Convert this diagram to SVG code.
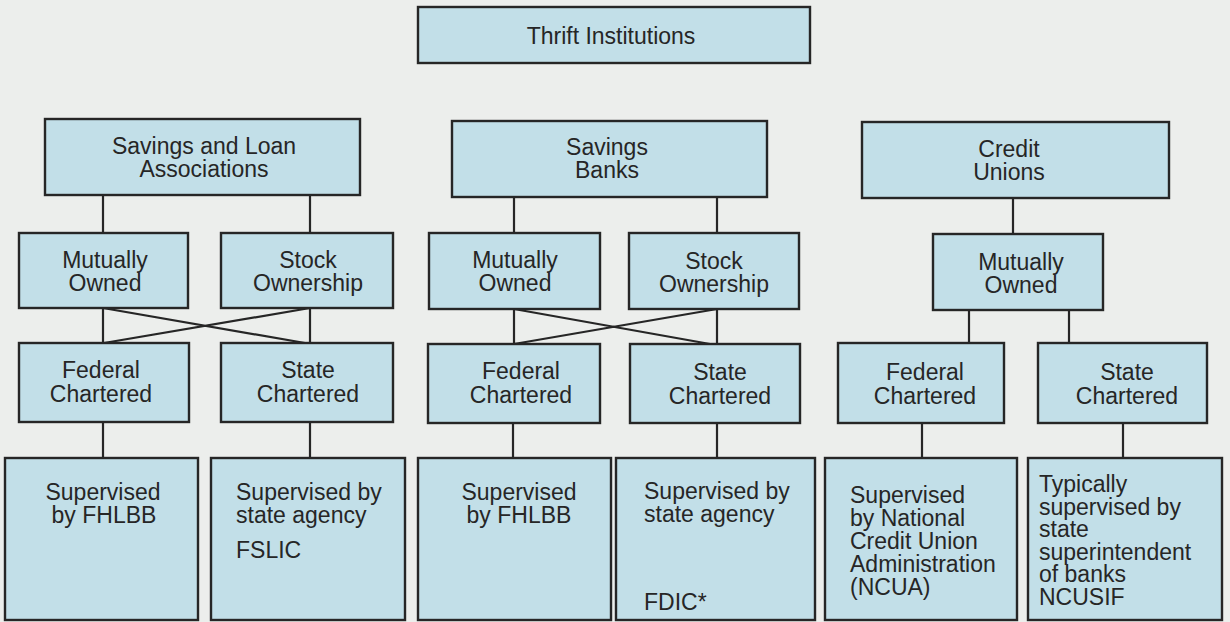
<svg xmlns="http://www.w3.org/2000/svg" width="1230" height="622" viewBox="0 0 1230 622">
  <style>
    .box { fill: #c2dfe8; stroke: #262626; stroke-width: 2.4; }
    .lnk { stroke: #262626; stroke-width: 2.2; fill: none; }
    text { font-family: "Liberation Sans", Arial, sans-serif; font-size: 23px; fill: #262626; }
    .c { text-anchor: middle; }
  </style>
  <rect width="1230" height="622" fill="#eceeec"/>

  <!-- connectors -->
  <g id="connectors">
    <!-- institution types to ownership -->
    <path class="lnk" d="M103 195 V233 M310 195 V233"/>
    <path class="lnk" d="M514 197 V233 M717 197 V233"/>
    <path class="lnk" d="M1013 198 V234"/>
    <!-- ownership to charter, savings and loan -->
    <path class="lnk" d="M103 308 V343 M310 308 V343 M103 308 L305 343 M310 308 L104 343"/>
    <!-- ownership to charter, savings banks -->
    <path class="lnk" d="M514 309 V344 M717 309 V344 M514 309 L710 344 M717 309 L514 344"/>
    <!-- ownership to charter, credit unions -->
    <path class="lnk" d="M969 310 V343 M1069 310 V343"/>
    <!-- charter to supervision -->
    <path class="lnk" d="M103 422 V458 M310 422 V458 M513 423 V458 M717 423 V458 M922 423 V458 M1123 423 V458"/>
  </g>

  <g id="thrift">
    <rect class="box" x="418" y="7" width="392" height="56"/>
    <text class="c" x="611" y="44">Thrift Institutions</text>
  </g>

  <g id="sl">
    <rect class="box" x="45" y="119" width="315" height="76"/>
    <text class="c" x="204" y="154">Savings and Loan</text>
    <text class="c" x="204" y="177">Associations</text>
  </g>
  <g id="sb">
    <rect class="box" x="452" y="121" width="315" height="76"/>
    <text class="c" x="607" y="155">Savings</text>
    <text class="c" x="607" y="178">Banks</text>
  </g>
  <g id="cu">
    <rect class="box" x="862" y="122" width="307" height="76"/>
    <text class="c" x="1009" y="157">Credit</text>
    <text class="c" x="1009" y="180">Unions</text>
  </g>

  <g id="sl-mutual">
    <rect class="box" x="19" y="233" width="169" height="75"/>
    <text class="c" x="105" y="268">Mutually</text>
    <text class="c" x="105" y="291">Owned</text>
  </g>
  <g id="sl-stock">
    <rect class="box" x="221" y="233" width="172" height="75"/>
    <text class="c" x="308" y="268">Stock</text>
    <text class="c" x="308" y="291">Ownership</text>
  </g>
  <g id="sb-mutual">
    <rect class="box" x="429" y="233" width="171" height="76"/>
    <text class="c" x="515" y="268">Mutually</text>
    <text class="c" x="515" y="291">Owned</text>
  </g>
  <g id="sb-stock">
    <rect class="box" x="629" y="233" width="170" height="76"/>
    <text class="c" x="714" y="269">Stock</text>
    <text class="c" x="714" y="292">Ownership</text>
  </g>
  <g id="cu-mutual">
    <rect class="box" x="933" y="234" width="170" height="76"/>
    <text class="c" x="1021" y="270">Mutually</text>
    <text class="c" x="1021" y="293">Owned</text>
  </g>

  <g id="sl-federal">
    <rect class="box" x="19" y="343" width="170" height="79"/>
    <text class="c" x="101" y="378">Federal</text>
    <text class="c" x="101" y="402">Chartered</text>
  </g>
  <g id="sl-state">
    <rect class="box" x="221" y="343" width="172" height="79"/>
    <text class="c" x="308" y="378">State</text>
    <text class="c" x="308" y="402">Chartered</text>
  </g>
  <g id="sb-federal">
    <rect class="box" x="428" y="344" width="172" height="79"/>
    <text class="c" x="521" y="379">Federal</text>
    <text class="c" x="521" y="403">Chartered</text>
  </g>
  <g id="sb-state">
    <rect class="box" x="630" y="344" width="170" height="79"/>
    <text class="c" x="720" y="380">State</text>
    <text class="c" x="720" y="404">Chartered</text>
  </g>
  <g id="cu-federal">
    <rect class="box" x="838" y="343" width="166" height="80"/>
    <text class="c" x="925" y="380">Federal</text>
    <text class="c" x="925" y="404">Chartered</text>
  </g>
  <g id="cu-state">
    <rect class="box" x="1038" y="343" width="169" height="80"/>
    <text class="c" x="1127" y="380">State</text>
    <text class="c" x="1127" y="404">Chartered</text>
  </g>

  <g id="sl-fed-sup">
    <rect class="box" x="5" y="458" width="193" height="162"/>
    <text class="c" x="103" y="500">Supervised</text>
    <text class="c" x="104" y="523">by FHLBB</text>
  </g>
  <g id="sl-state-sup">
    <rect class="box" x="211" y="458" width="194" height="162"/>
    <text x="236" y="500">Supervised by</text>
    <text x="236" y="523">state agency</text>
    <text x="236" y="558">FSLIC</text>
  </g>
  <g id="sb-fed-sup">
    <rect class="box" x="418" y="458" width="193" height="162"/>
    <text class="c" x="519" y="500">Supervised</text>
    <text class="c" x="519" y="523">by FHLBB</text>
  </g>
  <g id="sb-state-sup">
    <rect class="box" x="616" y="458" width="199" height="162"/>
    <text x="644" y="499">Supervised by</text>
    <text x="644" y="522">state agency</text>
    <text x="644" y="610">FDIC*</text>
  </g>
  <g id="cu-fed-sup">
    <rect class="box" x="825" y="458" width="192" height="162"/>
    <text x="850" y="503">Supervised</text>
    <text x="850" y="526">by National</text>
    <text x="850" y="549">Credit Union</text>
    <text x="850" y="572">Administration</text>
    <text x="850" y="595">(NCUA)</text>
  </g>
  <g id="cu-state-sup">
    <rect class="box" x="1028" y="458" width="194" height="162"/>
    <text x="1039" y="492">Typically</text>
    <text x="1039" y="515">supervised by</text>
    <text x="1039" y="537">state</text>
    <text x="1039" y="560">superintendent</text>
    <text x="1039" y="582">of banks</text>
    <text x="1039" y="605">NCUSIF</text>
  </g>
</svg>
